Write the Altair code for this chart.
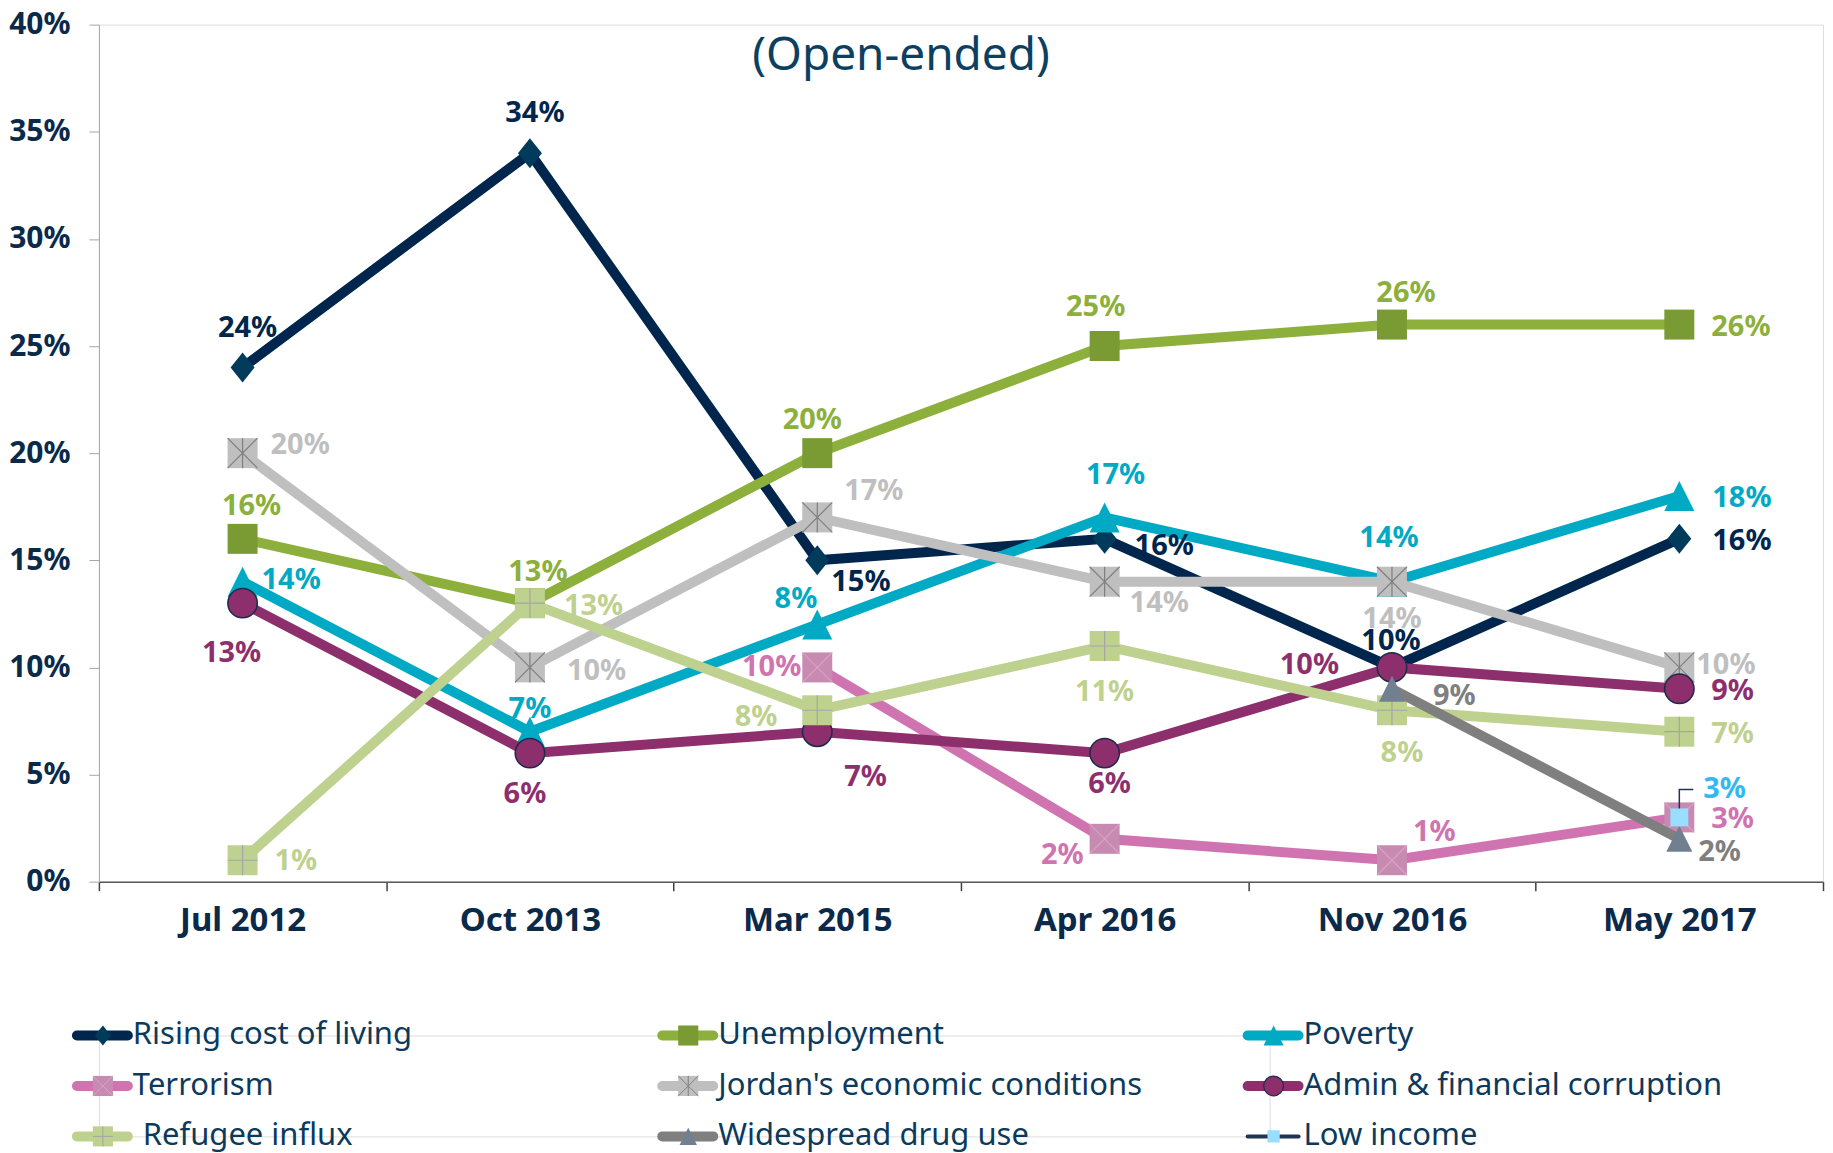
import altair as alt
import pandas as pd

# ---------------- data ----------------
DATES = ["Jul 2012", "Oct 2013", "Mar 2015", "Apr 2016", "Nov 2016", "May 2017"]
SERIES = [
    "Rising cost of living",
    "Unemployment",
    "Poverty",
    "Terrorism",
    "Jordan's economic conditions",
    "Admin & financial corruption",
    "Refugee influx",
    "Widespread drug use",
    "Low income",
]
RISING = [24, 34, 15, 16, 10, 16]
UNEMPLOYMENT = [16, 13, 20, 25, 26, 26]
POVERTY = [14, 7, 12, 17, 14, 18]
TERRORISM = [None, None, 10, 2, 1, 3]
JORDAN = [20, 10, 17, 14, 14, 10]
ADMIN = [13, 6, 7, 6, 10, 9]
REFUGEE = [1, 13, 8, 11, 8, 7]
DRUG = [None, None, None, None, 9, 2]
LOW_INCOME = [None, None, None, None, None, 3]

# data labels as printed on the chart (Poverty Mar 2015 is printed "8%")
POVERTY_LABELS = ["14%", "7%", "8%", "17%", "14%", "18%"]

VALUES = [RISING, UNEMPLOYMENT, POVERTY, TERRORISM, JORDAN, ADMIN, REFUGEE, DRUG, LOW_INCOME]

# ---------------- styles ----------------
FONT = "Noto Sans"
NAVY = "#0B2A4A"
LEGEND_TEXT = "#0B3A5C"

DIAMOND = "M0,-1L0.8,0L0,1L-0.8,0Z"
TRIANGLE = "M0,-1L1,1L-1,1Z"
X_MARK = "M-1,-1L1,1M-1,1L1,-1"
ASTERISK = "M-1,-1L1,1M-1,1L1,-1M0,-1L0,1"
PLUS = "M-1,0L1,0M0,-1L0,1"
LEGEND_SEG = "M-1,0L1,0"

STYLES = {
    "Rising cost of living": dict(line="#00264D", shape=DIAMOND, fill="#003B5C", size=900, label="#00264D"),
    "Unemployment": dict(line="#8DAF3B", shape="square", fill="#7A9A33", size=900, label="#8DAF3B"),
    "Poverty": dict(line="#00A9C4", shape=TRIANGLE, fill="#00A9C4", size=900, label="#00A9C4"),
    "Terrorism": dict(line="#CF74B0", shape="square", fill="#C78AB0", size=900,
                      overlay=X_MARK, ov_color="#D9A3C4", label="#CF74B0"),
    "Jordan's economic conditions": dict(line="#BFBFBF", shape="square", fill="#BFBFBF", size=900,
                                         overlay=ASTERISK, ov_color="#7F7F7F", label="#BFBFBF"),
    "Admin & financial corruption": dict(line="#8E2F6D", shape="circle", fill="#8E2F6D", size=870,
                                         stroke="#1C2B4A", label="#8E2F6D"),
    "Refugee influx": dict(line="#BFD18F", shape="square", fill="#BFD18F", size=900,
                           overlay=PLUS, ov_color="#A5A5A5", label="#BFD18F", leg_text_dx=44),
    "Widespread drug use": dict(line="#7F7F7F", shape=TRIANGLE, fill="#708090", size=676, label="#7F7F7F"),
    "Low income": dict(line="#1F3550", shape="square", fill="#99DDFF", size=324, label="#33B8F2",
                       leg_width=4, leg_size=150),
}

# label placement per point: (align, dx, dy) in pixels
PLACE = {
    "Rising cost of living": [("center", 5, -39), ("center", 5, -40), ("left", 14, 22),
                              ("left", 30, 7), ("center", -1, -26), ("left", 33, 2)],
    "Unemployment": [("center", 9, -33), ("center", 8, -31), ("center", -5, -33),
                     ("center", -9, -39), ("center", 14, -32), ("left", 32, 2)],
    "Poverty": [("left", 19, -2), ("center", 0, -23), ("right", 0, -26),
                ("center", 11, -42), ("center", -3, -44), ("left", 33, 2)],
    "Terrorism": [None, None, ("right", -16, 0), ("right", -21, 16), ("left", 21, -28), ("left", 32, 2)],
    "Jordan's economic conditions": [("left", 28, -8), ("left", 37, 4), ("left", 27, -26),
                                     ("left", 25, 21), ("center", 0, 37), ("left", 17, -2)],
    "Admin & financial corruption": [("center", -11, 50), ("center", -5, 41), ("left", 27, 45),
                                     ("center", 5, 31), ("right", -53, -2), ("left", 32, 2)],
    "Refugee influx": [("left", 32, 1), ("left", 34, 3), ("right", -40, 7),
                       ("center", 0, 46), ("center", 10, 43), ("left", 32, 2)],
    "Widespread drug use": [None, None, None, None, ("left", 41, 7), ("left", 19, 13)],
    "Low income": [None, None, None, None, None, ("left", 24, -28)],
}

PLOT_W = 1726
PLOT_H = 858

x_axis = alt.Axis(
    tickBand="extent", labelAngle=0, labelFont=FONT, labelFontSize=33, labelFontWeight="bold",
    labelColor=NAVY, labelPadding=14, tickSize=9, tickColor="#404040", tickWidth=1.5,
    domainColor="#595959", domainWidth=1.5, grid=False, title=None,
)
y_axis = alt.Axis(
    values=list(range(0, 41, 5)), labelExpr="datum.value + '%'", labelFont=FONT, labelFontSize=30,
    labelFontWeight="bold", labelColor=NAVY, labelPadding=19, tickSize=10, tickColor="#A6A6A6",
    domainColor="#A6A6A6", grid=False, title=None,
)


def X():
    return alt.X("date:N", scale=alt.Scale(type="band", domain=DATES, paddingInner=0, paddingOuter=0),
                 bandPosition=0.5, axis=x_axis, title=None)


def Y():
    return alt.Y("value:Q", scale=alt.Scale(domain=[0, 40], nice=False), axis=y_axis, title=None)


layers = []
label_layers = []
for s, vals in zip(SERIES, VALUES):
    st = STYLES[s]
    rows = [(d, v) for d, v in zip(DATES, vals) if v is not None]
    df = pd.DataFrame(rows, columns=["date", "value"])
    base = alt.Chart(df)
    if len(df) > 1:
        layers.append(base.mark_line(color=st["line"], strokeWidth=10, strokeJoin="miter")
                      .encode(x=X(), y=Y()))
    layers.append(base.mark_point(shape=st["shape"], filled=True, fill=st["fill"], size=st["size"],
                                  opacity=1, fillOpacity=1,
                                  stroke=st.get("stroke", st["fill"]),
                                  strokeWidth=1.5 if "stroke" in st else 0)
                  .encode(x=X(), y=Y()))
    if "overlay" in st:
        layers.append(base.mark_point(shape=st["overlay"], filled=False, stroke=st["ov_color"],
                                      strokeWidth=1.2, size=st["size"], opacity=1)
                      .encode(x=X(), y=Y()))
    if s == "Low income":
        # small leader line from the marker to its label
        layers.append(base.mark_point(shape="M0,-9L0,-28L14,-28", filled=False, stroke="#1F3550",
                                      strokeWidth=1.5, size=4, opacity=1)
                      .encode(x=X(), y=Y()))
    texts = POVERTY_LABELS if s == "Poverty" else [None if v is None else f"{v}%" for v in vals]
    for d, v, t, p in zip(DATES, vals, texts, PLACE[s]):
        if v is None or p is None:
            continue
        ldf = pd.DataFrame({"date": [d], "value": [v], "text": [t]})
        align, dx, dy = p
        label_layers.append(
            alt.Chart(ldf).mark_text(align=align, baseline="middle", dx=dx, dy=dy, font=FONT,
                                     fontSize=29, fontWeight="bold", color=st["label"])
            .encode(x=X(), y=Y(), text="text:N")
        )

title_layer = alt.Chart(pd.DataFrame({"t": ["(Open-ended)"]})).mark_text(
    font=FONT, fontSize=46, color="#0B4060", align="center", baseline="middle"
).encode(x=alt.value(803), y=alt.value(31), text="t:N")

main = alt.layer(*layers, *label_layers, title_layer).properties(width=PLOT_W, height=PLOT_H)

# ---------------- legend ----------------
leg_df = pd.DataFrame({
    "series": SERIES,
    "col": [i % 3 for i in range(len(SERIES))],
    "row": [i // 3 for i in range(len(SERIES))],
})
LX = alt.X("col:Q", scale=alt.Scale(domain=[0, 2], nice=False, zero=False), axis=None)
LY = alt.Y("row:Q", scale=alt.Scale(domain=[0, 2], nice=False, zero=False, reverse=True), axis=None)

leg_layers = []
for s in SERIES:
    st = STYLES[s]
    b = alt.Chart(leg_df[leg_df.series == s])
    lw = st.get("leg_width", 10)
    leg_layers.append(b.mark_point(shape=LEGEND_SEG, filled=False, stroke=st["line"], strokeWidth=lw,
                                   strokeCap="round", size=2601, opacity=1, xOffset=3.5)
                      .encode(x=LX, y=LY))
    msize = st.get("leg_size", st["size"] * 0.45)
    leg_layers.append(b.mark_point(shape=st["shape"], filled=True, fill=st["fill"], size=msize,
                                   opacity=1, stroke=st.get("stroke", st["fill"]),
                                   strokeWidth=1.2 if "stroke" in st else 0, xOffset=4)
                      .encode(x=LX, y=LY))
    if "overlay" in st:
        leg_layers.append(b.mark_point(shape=st["overlay"], filled=False, stroke=st["ov_color"],
                                       strokeWidth=1, size=msize, opacity=1, xOffset=4)
                          .encode(x=LX, y=LY))
    leg_layers.append(b.mark_text(align="left", baseline="middle", xOffset=st.get("leg_text_dx", 34),
                                  font=FONT, fontSize=31, color=LEGEND_TEXT)
                      .encode(x=LX, y=LY, text="series:N"))

legend = alt.layer(*leg_layers).properties(width=1172, height=101)

chart = (
    alt.vconcat(main, legend, spacing=76)
    .properties(padding=0)
    .configure_view(stroke=None)
    .configure(font=FONT)
)

chart.save("out.html", embed_options={"renderer": "svg", "actions": False})
